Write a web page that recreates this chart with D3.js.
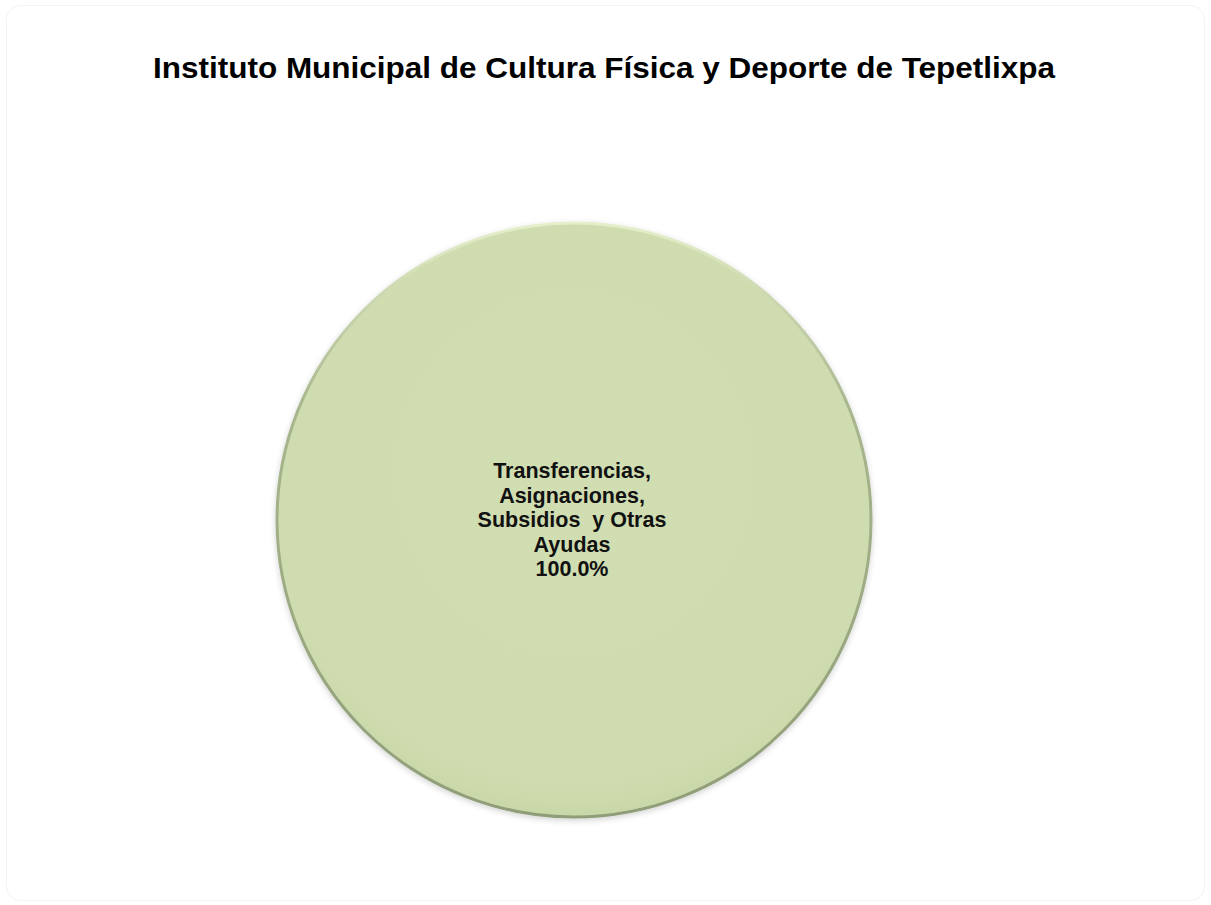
<!DOCTYPE html>
<html>
<head>
<meta charset="utf-8">
<script src="https://cdn.jsdelivr.net/npm/d3@7"></script>
<style>
  html, body { margin: 0; padding: 0; background: #ffffff; }
  svg { display: block; }
</style>
</head>
<body>
<div id="chart"></div>
<script>
const title = "Instituto Municipal de Cultura Física y Deporte de Tepetlixpa";
const categories = ["Transferencias, Asignaciones, Subsidios y Otras Ayudas"];
const values = [100.0];
const labelLines = [["Transferencias,", "Asignaciones,", "Subsidios  y Otras", "Ayudas"]];
const colors = ["#cfdcb0"];

const W = 1211, H = 905;
const svg = d3.select("#chart").append("svg").attr("width", W).attr("height", H);

const defs = svg.append("defs");
const grad = defs.append("radialGradient").attr("id", "rim")
  .attr("cx", "50%").attr("cy", "42%").attr("r", "58%");
grad.append("stop").attr("offset", "0%").attr("stop-color", "#d1deb2");
grad.append("stop").attr("offset", "90%").attr("stop-color", "#cfdcaf");
grad.append("stop").attr("offset", "100%").attr("stop-color", "#c9d7a8");

const edge = defs.append("linearGradient").attr("id", "edge")
  .attr("x1", "0").attr("y1", "0").attr("x2", "0").attr("y2", "1");
edge.append("stop").attr("offset", "0%").attr("stop-color", "#e6efcb");
edge.append("stop").attr("offset", "30%").attr("stop-color", "#a9b78f");
edge.append("stop").attr("offset", "100%").attr("stop-color", "#8f9e78");

const shadow = defs.append("filter").attr("id", "shadow")
  .attr("x", "-10%").attr("y", "-10%").attr("width", "120%").attr("height", "120%");
shadow.append("feGaussianBlur").attr("in", "SourceAlpha").attr("stdDeviation", 3).attr("result", "b");
shadow.append("feOffset").attr("in", "b").attr("dx", 0).attr("dy", 2).attr("result", "o");
shadow.append("feComponentTransfer").attr("in", "o").attr("result", "s")
  .append("feFuncA").attr("type", "linear").attr("slope", 0.18);
const merge = shadow.append("feMerge");
merge.append("feMergeNode").attr("in", "s");
merge.append("feMergeNode").attr("in", "SourceGraphic");

// chart frame
svg.append("rect")
  .attr("x", 6.5).attr("y", 5.5).attr("width", W - 13).attr("height", H - 10)
  .attr("rx", 14).attr("ry", 14)
  .attr("fill", "#ffffff").attr("stroke", "#f3f3f3").attr("stroke-width", 1);

// title
svg.append("text")
  .attr("x", 604).attr("y", 78)
  .attr("text-anchor", "middle")
  .attr("font-family", "Liberation Sans, Arial, sans-serif")
  .attr("font-weight", "bold")
  .attr("font-size", 30)
  .attr("fill", "#000")
  .attr("textLength", 902)
  .attr("lengthAdjust", "spacingAndGlyphs")
  .text(title);

const cx = 574, cy = 520, R = 297;
const g = svg.append("g").attr("transform", `translate(${cx},${cy})`);

const pie = d3.pie().sort(null).value(d => d.value);
const data = categories.map((c, i) => ({ name: c, value: values[i], color: colors[i], lines: labelLines[i] }));
const arcs = pie(data);
const arc = d3.arc().innerRadius(0).outerRadius(R);

g.selectAll("path.slice").data(arcs).join("path")
  .attr("class", "slice")
  .attr("d", arc)
  .attr("fill", "url(#rim)")
  .attr("stroke", "url(#edge)")
  .attr("stroke-width", 3)
  .attr("filter", "url(#shadow)");

const total = d3.sum(values);
const fmt = d3.format(".1f");
const lineH = 24.5;
const labels = g.selectAll("text.lbl").data(arcs).join("text")
  .attr("class", "lbl")
  .attr("text-anchor", "middle")
  .attr("font-family", "Liberation Sans, Arial, sans-serif")
  .attr("font-weight", "bold")
  .attr("font-size", 21.5)
  .attr("fill", "#111");

labels.each(function(d) {
  const lines = d.data.lines.concat([fmt(d.data.value / total * 100) + "%"]);
  const pos = (d.endAngle - d.startAngle) >= 2 * Math.PI - 1e-6 ? [-2, 0] : arc.centroid(d);
  const startY = pos[1] - (lines.length - 1) * lineH / 2 + 7;
  d3.select(this).selectAll("tspan").data(lines).join("tspan")
    .attr("x", pos[0])
    .attr("y", (l, i) => startY + i * lineH)
    .attr("xml:space", "preserve")
    .text(l => l);
});
</script>
</body>
</html>
